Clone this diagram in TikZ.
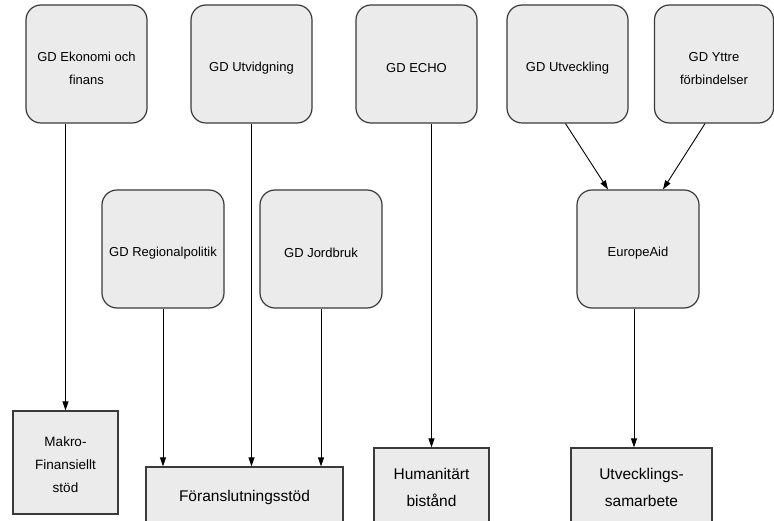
\documentclass[tikz,border=0pt]{standalone}
\usepackage{fontspec}
\setmainfont{Liberation Sans}
\usetikzlibrary{calc,arrows.meta}
\definecolor{boxfill}{HTML}{EBEBEB}
\definecolor{boxline}{HTML}{3A3A3A}
\newcommand\gdlower{\rule{0pt}{18pt}}
\tikzset{
  gd/.style={draw=boxline, line width=1.2pt, fill=boxfill, rounded corners=15pt,
    minimum width=121pt, minimum height=118pt, align=center, inner sep=2pt,
    font=\fontsize{13}{23}\selectfont},
  outbox/.style={draw=boxline, line width=1.2pt, fill=boxfill, align=center, inner sep=2pt,
    font=\fontsize{15.5}{27}\selectfont},
  arr/.style={draw=black, line width=0.9pt, -{Triangle[length=9pt,width=6pt]}}
}
\begin{document}
\begin{tikzpicture}[x=1pt,y=-1pt]
\useasboundingbox (0,0) rectangle (774,521);
\clip (0,0) rectangle (774,521);
\fill[white] (0,0) rectangle (774,521);
% top row
\node[gd] (b1) at (86.5,64) {\gdlower GD Ekonomi och\\finans};
\node[gd] (b2) at (251.5,64) {\gdlower GD Utvidgning};
\node[gd] (b3) at (416.5,64) {\gdlower GD ECHO};
\node[gd] (b4) at (567.5,64) {\gdlower GD Utveckling};
\node[gd, minimum width=119pt] (b5) at (714,64) {\gdlower GD Yttre\\förbindelser};
% middle row
\node[gd, minimum width=122pt] (reg) at (163,249) {\gdlower GD Regionalpolitik};
\node[gd, minimum width=122pt] (jord) at (321,249) {\gdlower GD Jordbruk};
\node[gd, minimum width=122pt] (eu) at (638,249) {\gdlower EuropeAid};
% bottom row
\node[outbox, minimum width=105pt, minimum height=103pt, font=\fontsize{13.5}{23}\selectfont] (mak) at (65.5,462.5) {\rule{0pt}{14pt}Makro-\\Finansiellt\\stöd};
\node[outbox, minimum width=197pt, minimum height=60pt] (foer) at (244.5,497) {Föranslutningsstöd};
\node[outbox, minimum width=115pt, minimum height=78pt] (hum) at (431.5,487) {Humanitärt\\bistånd};
\node[outbox, minimum width=141pt, minimum height=78pt] (utv) at (641.5,487) {Utvecklings-\\samarbete};
% connectors
\draw[arr] (b1.south -| mak.north) -- (mak.north);
\draw[arr] (b2.south) -- (b2.south |- foer.north);
\draw[arr] (reg.south) -- (reg.south |- foer.north);
\draw[arr] (jord.south) -- (jord.south |- foer.north);
\draw[arr] (b3.south -| hum.north) -- (hum.north);
\draw[arr] ($(eu.south)+(-4,0)$) -- ($(eu.south |- utv.north)+(-4,0)$);
\draw[arr] ($(b4.south)+(-2,0)$) -- ($(eu.north)+(-30,0)$);
\draw[arr] ($(b5.south)+(-9,0)$) -- ($(eu.north)+(25,0)$);
\end{tikzpicture}
\end{document}
